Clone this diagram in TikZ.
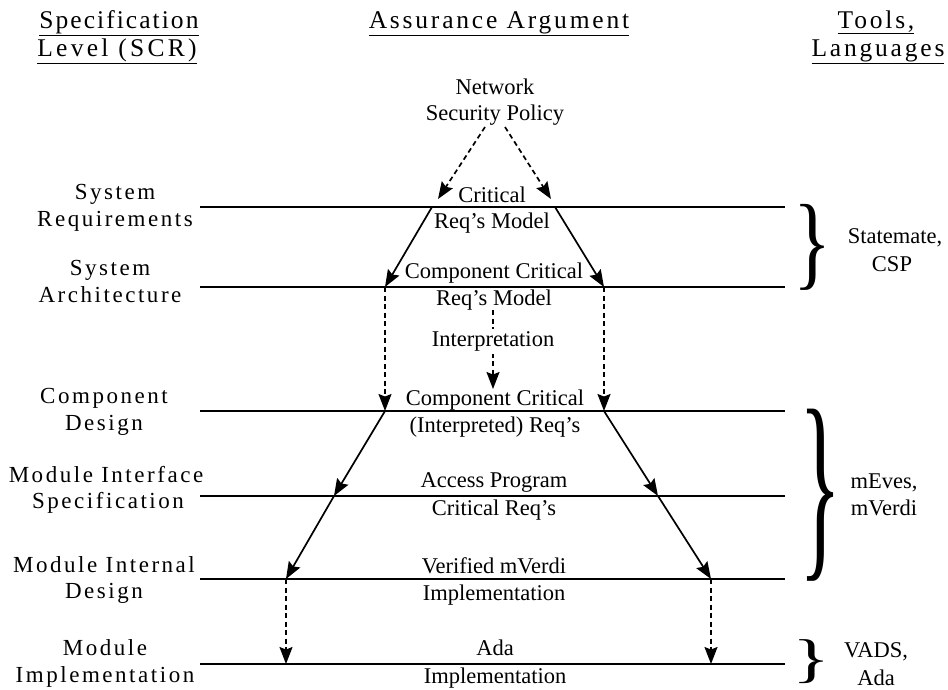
\documentclass[tikz,border=0pt]{standalone}
\usepackage{fontspec}
\setmainfont{Liberation Serif}
\newfontfamily\spacedfont[LetterSpace=11]{Liberation Serif}
\newfontfamily\headfont[LetterSpace=11]{Liberation Serif}
\usetikzlibrary{arrows.meta}
\begin{document}
\begin{tikzpicture}[x=1pt,y=-1pt,
		level/.style={line width=1.5pt},
		flow/.style={line width=1.7pt,-{Stealth[length=17pt,width=13pt,inset=2.5pt]}},
		dashflow/.style={flow,dash pattern=on 5pt off 3.5pt},
		txt/.style={font=\fontsize{22.5}{27}\selectfont,anchor=base,inner sep=0pt},
		lbl/.style={font=\spacedfont\fontsize{23}{27}\selectfont,anchor=base,inner sep=0pt},
		head/.style={font=\headfont\fontsize{25.5}{29}\selectfont,anchor=base,inner sep=0pt},
		tool/.style={font=\fontsize{22.5}{27}\selectfont,anchor=base,inner sep=0pt},
		brace/.style={inner sep=0pt}]
				\useasboundingbox (0,0) rectangle (948,689);
				\node[head] (h1a) at (119,28) {\addfontfeature{LetterSpace=8}\underline{Specification}};
				\node[head] (h1b) at (117,56) {\addfontfeature{LetterSpace=13}\underline{Level (SCR)}};
				\node[head] (h2) at (499,28) {\underline{Assurance Argument}};
				\node[head] (h3a) at (876,28) {\underline{Tools,}};
				\node[head] (h3b) at (878,56) {\underline{Languages}};
				\draw[level] (200,207) -- (785,207);
				\draw[level] (200,287) -- (785,287);
				\draw[level] (200,411) -- (785,411);
				\draw[level] (200,496) -- (785,496);
				\draw[level] (200,579) -- (785,579);
				\draw[level] (200,664) -- (785,664);
				\node[lbl] (sr1) at (115,199) {System};
				\node[lbl] (sr2) at (115,226) {Requirements};
				\node[lbl] (sa1) at (110,275) {System};
				\node[lbl] (sa2) at (110,302) {Architecture};
				\node[lbl] (cd1) at (104,403) {Component};
				\node[lbl] (cd2) at (104,430) {Design};
				\node[lbl] (mi1) at (106,482) {Module Interface};
				\node[lbl] (mi2) at (108,508) {Specification};
				\node[lbl] (md1) at (104,572) {Module Internal};
				\node[lbl] (md2) at (104,598) {Design};
				\node[lbl] (mm1) at (105,655) {Module};
				\node[lbl] (mm2) at (105,682) {Implementation};
				\node[txt] (nsp1) at (495,94) {Network};
				\node[txt] (nsp2) at (495,120) {Security Policy};
				\node[txt] (crm1) at (492,202) {Critical};
				\node[txt] (crm2) at (492,228) {Req's Model};
				\node[txt] (ccm1) at (494,278) {Component Critical};
				\node[txt] (ccm2) at (494,305) {Req's Model};
				\node[txt] (cci1) at (495,405) {Component Critical};
				\node[txt] (cci2) at (495,432) {(Interpreted) Req's};
				\node[txt] (apc1) at (494,487) {Access Program};
				\node[txt] (apc2) at (494,515) {Critical Req's};
				\node[txt] (vmi1) at (494,573) {Verified mVerdi};
				\node[txt] (vmi2) at (494,600) {Implementation};
				\node[txt] (ada1) at (495,655) {Ada};
				\node[txt] (ada2) at (495,683) {Implementation};
				\coordinate (p0l) at (485,127);
				\coordinate (p0r) at (505,127);
				\coordinate (q0l) at (438,199);
				\coordinate (q0r) at (551,199);
				\coordinate (p1l) at (432,207);
				\coordinate (p1r) at (555,207);
				\coordinate (p2l) at (385,287);
				\coordinate (p2r) at (604,287);
				\coordinate (p3l) at (385,411);
				\coordinate (p3r) at (604,411);
				\coordinate (p4l) at (334,496);
				\coordinate (p4r) at (658,496);
				\coordinate (p5l) at (286,579);
				\coordinate (p5r) at (711,579);
				\coordinate (p6l) at (286,664);
				\coordinate (p6r) at (711,664);
				\coordinate (m0) at (493,310);
				\coordinate (m1) at (493,389);
				\draw[dashflow] (p0l) -- (q0l);
				\draw[dashflow] (p0r) -- (q0r);
				\draw[flow] (p1l) -- (p2l);
				\draw[flow] (p1r) -- (p2r);
				\draw[dashflow] (p2l) -- (p3l);
				\draw[dashflow] (p2r) -- (p3r);
				\draw[dashflow] (m0) -- (m1) node[pos=0.4,txt,anchor=center,fill=white,inner sep=3pt] (intp) {Interpretation};
				\draw[flow] (p3l) -- (p4l);
				\draw[flow] (p4l) -- (p5l);
				\draw[flow] (p3r) -- (p4r);
				\draw[flow] (p4r) -- (p5r);
				\draw[dashflow] (p5l) -- (p6l);
				\draw[dashflow] (p5r) -- (p6r);
				\node[brace] (b1) at (813,247) {\resizebox*{38pt}{86pt}{\}}};
				\node[brace] (b2) at (821,495) {\resizebox*{42pt}{172pt}{\}}};
				\node[brace] (b3) at (812,662) {\resizebox*{38pt}{44pt}{\}}};
				\node[tool] (t1a) at (895,243) {Statemate,};
				\node[tool] (t1b) at (892,271) {CSP};
				\node[tool] (t2a) at (884,488) {mEves,};
				\node[tool] (t2b) at (884,515) {mVerdi};
				\node[tool] (t3a) at (876,657) {VADS,};
				\node[tool] (t3b) at (876,685) {Ada};
			\end{tikzpicture}
\end{document}
